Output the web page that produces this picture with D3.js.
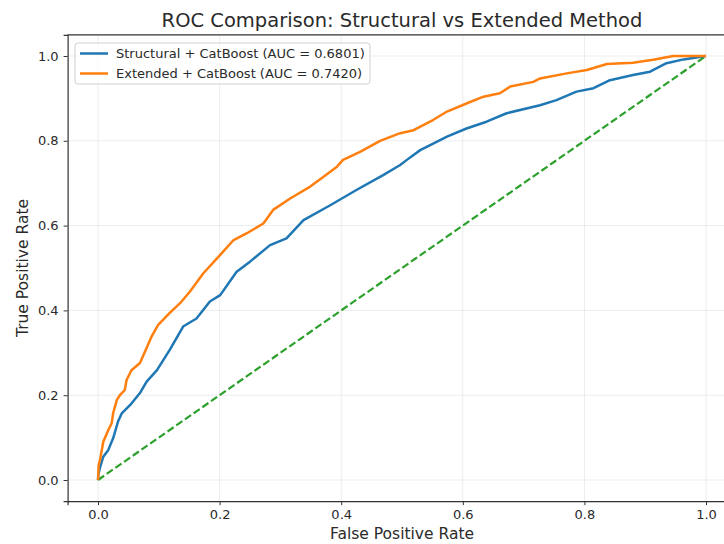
<!DOCTYPE html>
<html>
<head>
<meta charset="utf-8">
<script src="https://cdn.jsdelivr.net/npm/d3@7"></script>
<style>
  html, body { margin: 0; padding: 0; background: #fff; }
  svg { display: block; font-family: "DejaVu Sans", sans-serif; }
</style>
</head>
<body>
<svg id="chart" width="724" height="544"></svg>
<script>
// ROC curve points (false positive rate, true positive rate)
const structuralFpr = [0, 0.0005, 0.003, 0.0087, 0.017, 0.025, 0.033, 0.039, 0.053, 0.069, 0.080, 0.097, 0.118, 0.140, 0.162, 0.184, 0.201, 0.228, 0.250, 0.283, 0.310, 0.338, 0.382, 0.425, 0.469, 0.497, 0.508, 0.530, 0.574, 0.606, 0.639, 0.672, 0.727, 0.754, 0.787, 0.815, 0.842, 0.880, 0.908, 0.935, 0.963, 1.0];
const structuralTpr = [0, 0.012, 0.028, 0.055, 0.071, 0.099, 0.138, 0.157, 0.177, 0.205, 0.232, 0.259, 0.307, 0.362, 0.381, 0.421, 0.436, 0.491, 0.515, 0.554, 0.570, 0.613, 0.648, 0.684, 0.719, 0.743, 0.755, 0.778, 0.810, 0.829, 0.845, 0.865, 0.884, 0.896, 0.916, 0.924, 0.943, 0.955, 0.963, 0.983, 0.992, 1.0];

const extendedFpr = [0, 0.0005, 0.001, 0.0033, 0.0087, 0.017, 0.0225, 0.025, 0.031, 0.036, 0.044, 0.047, 0.055, 0.069, 0.077, 0.088, 0.099, 0.118, 0.135, 0.151, 0.173, 0.201, 0.223, 0.245, 0.272, 0.288, 0.316, 0.349, 0.371, 0.393, 0.403, 0.431, 0.464, 0.497, 0.519, 0.551, 0.574, 0.606, 0.634, 0.661, 0.678, 0.716, 0.727, 0.771, 0.804, 0.837, 0.880, 0.913, 0.946, 1.0];
const extendedTpr = [0, 0.008, 0.035, 0.047, 0.090, 0.118, 0.134, 0.158, 0.189, 0.200, 0.212, 0.236, 0.259, 0.276, 0.302, 0.338, 0.366, 0.394, 0.417, 0.444, 0.487, 0.531, 0.566, 0.582, 0.605, 0.637, 0.664, 0.692, 0.715, 0.739, 0.755, 0.774, 0.800, 0.818, 0.825, 0.849, 0.869, 0.888, 0.904, 0.912, 0.928, 0.939, 0.947, 0.959, 0.967, 0.981, 0.984, 0.991, 1.0, 1.0];

const chanceLine = [0, 1];

const seriesLabels = [
  "Structural + CatBoost (AUC = 0.6801)",
  "Extended + CatBoost (AUC = 0.7420)"
];
const tickValues = [0.0, 0.2, 0.4, 0.6, 0.8, 1.0];

const titleText = "ROC Comparison: Structural vs Extended Method";
const xLabelText = "False Positive Rate";
const yLabelText = "True Positive Rate";

const colors = { structural: "#1f77b4", extended: "#ff7f0e", chance: "#2ca02c" };

const svg = d3.select("#chart");

const x = d3.scaleLinear().domain([-0.05, 1.05]).range([67.6, 736.4]);
const y = d3.scaleLinear().domain([-0.05, 1.05]).range([501.2, 34.8]);

// grid
const grid = svg.append("g");
grid.selectAll("line.gx").data(tickValues).join("line")
  .attr("x1", d => x(d)).attr("x2", d => x(d))
  .attr("y1", y.range()[0]).attr("y2", y.range()[1])
  .attr("stroke", "#b0b0b0").attr("stroke-opacity", 0.3).attr("stroke-width", 0.8);
grid.selectAll("line.gy").data(tickValues).join("line")
  .attr("y1", d => y(d)).attr("y2", d => y(d))
  .attr("x1", x.range()[0]).attr("x2", x.range()[1])
  .attr("stroke", "#b0b0b0").attr("stroke-opacity", 0.3).attr("stroke-width", 0.8);

const line = d3.line().x(d => x(d[0])).y(d => y(d[1]));

// diagonal reference line
svg.append("path")
  .datum(chanceLine.map(v => [v, v]))
  .attr("d", line)
  .attr("fill", "none")
  .attr("stroke", colors.chance)
  .attr("stroke-width", 2.2)
  .attr("stroke-dasharray", "7.4,3.2");

svg.append("path")
  .datum(d3.zip(structuralFpr, structuralTpr))
  .attr("d", line)
  .attr("fill", "none")
  .attr("stroke", colors.structural)
  .attr("stroke-width", 2.5)
  .attr("stroke-linejoin", "round");

svg.append("path")
  .datum(d3.zip(extendedFpr, extendedTpr))
  .attr("d", line)
  .attr("fill", "none")
  .attr("stroke", colors.extended)
  .attr("stroke-width", 2.5)
  .attr("stroke-linejoin", "round");

// axes
const fmt = d3.format(".1f");
const xAxis = svg.append("g")
  .attr("transform", `translate(0,${y.range()[0]})`)
  .call(d3.axisBottom(x).tickValues(tickValues).tickFormat(fmt).tickSizeOuter(0).tickSize(4).tickPadding(5));
const yAxis = svg.append("g")
  .attr("transform", `translate(${x.range()[0]},0)`)
  .call(d3.axisLeft(y).tickValues(tickValues).tickFormat(fmt).tickSizeOuter(0).tickSize(4).tickPadding(5));
[xAxis, yAxis].forEach(a => {
  a.select(".domain").attr("stroke", "#333").attr("stroke-width", 1.2);
  a.selectAll(".tick line").attr("stroke", "#333").attr("stroke-width", 1);
  a.selectAll(".tick text").attr("fill", "#2a2a2a").attr("font-size", 13)
    .attr("font-family", "DejaVu Sans, sans-serif");
});

// top spine
svg.append("line")
  .attr("x1", x.range()[0]).attr("x2", x.range()[1])
  .attr("y1", y.range()[1]).attr("y2", y.range()[1])
  .attr("stroke", "#333").attr("stroke-width", 1.2);

// titles
const cx = (x.range()[0] + x.range()[1]) / 2;
svg.append("text").attr("x", cx).attr("y", 27)
  .attr("text-anchor", "middle").attr("font-size", 19.5).attr("fill", "#2a2a2a")
  .text(titleText);
svg.append("text").attr("x", cx).attr("y", 539)
  .attr("text-anchor", "middle").attr("font-size", 15.5).attr("fill", "#2a2a2a")
  .text(xLabelText);
svg.append("text")
  .attr("transform", `translate(28,${(y.range()[0] + y.range()[1]) / 2}) rotate(-90)`)
  .attr("text-anchor", "middle").attr("font-size", 15.5).attr("fill", "#2a2a2a")
  .text(yLabelText);

// legend
const legend = svg.append("g");
legend.append("rect")
  .attr("x", 75).attr("y", 43).attr("width", 295).attr("height", 41)
  .attr("rx", 3).attr("fill", "#fff").attr("fill-opacity", 0.8)
  .attr("stroke", "#d0d0d0").attr("stroke-width", 1);
const legendColors = [colors.structural, colors.extended];
seriesLabels.forEach((label, i) => {
  const ly = 53.5 + i * 20;
  legend.append("line")
    .attr("x1", 80).attr("x2", 108).attr("y1", ly).attr("y2", ly)
    .attr("stroke", legendColors[i]).attr("stroke-width", 2.5);
  legend.append("text")
    .attr("x", 116).attr("y", ly).attr("dy", "0.35em")
    .attr("font-size", 13).attr("fill", "#2a2a2a")
    .text(label);
});
</script>
</body>
</html>
